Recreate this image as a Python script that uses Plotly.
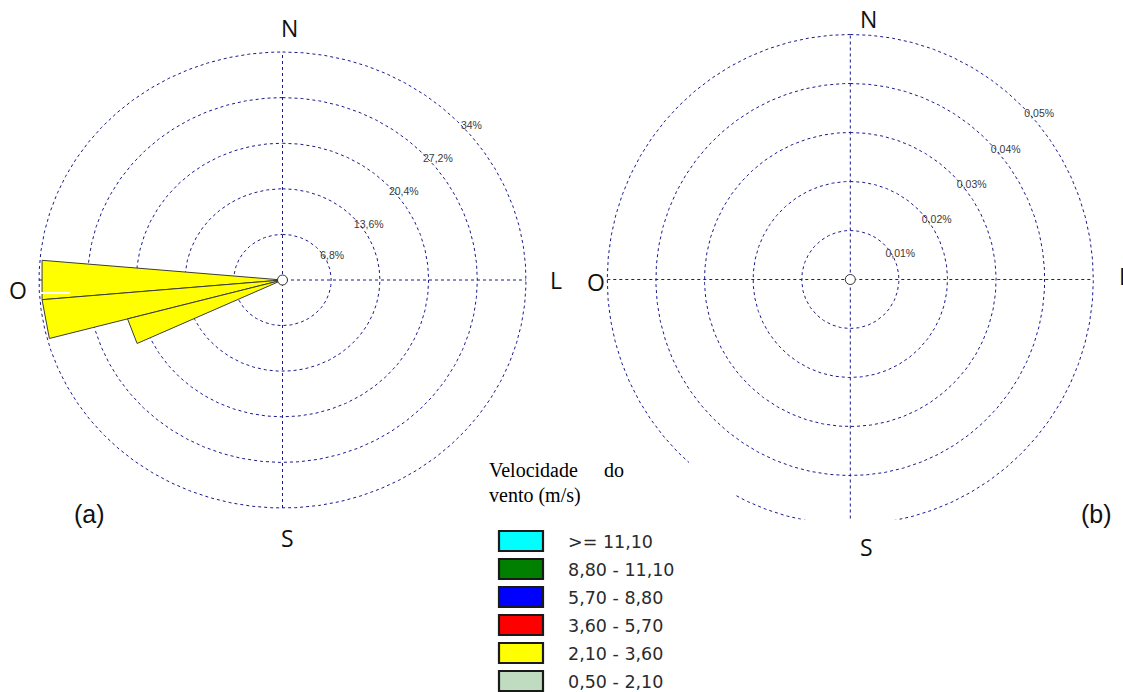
import numpy as np
import plotly.graph_objects as go

# ---- data -------------------------------------------------------------
# rose (a): frequency (%) per 10-degree direction sector, class 2,10 - 3,60 m/s
directions_a = [270, 260, 250]
freq_a = [33.7, 33.7, 22.4]
sector_width = 10

rings_a = [6.8, 13.6, 20.4, 27.2, 34.0]
ring_labels_a = ["6,8%", "13,6%", "20,4%", "27,2%", "34%"]

# rose (b): empty rose, only the frequency rings
rings_b = [0.01, 0.02, 0.03, 0.04, 0.05]
ring_labels_b = ["0,01%", "0,02%", "0,03%", "0,04%", "0,05%"]

speed_classes = [">= 11,10", "8,80 - 11,10", "5,70 - 8,80",
                 "3,60 - 5,70", "2,10 - 3,60", "0,50 - 2,10"]
class_colors = ["#00FFFF", "#007F00", "#0000FF", "#FF0000", "#FFFF00", "#C0DCC0"]
wedge_class = "2,10 - 3,60"

compass_names = ["N", "L", "S", "O"]

# ---- page geometry ----------------------------------------------------
W, H = 1123, 692
PAD = 5
GRID = "#1a1a8c"
ROSE_A = dict(cx=282.5, cy=280.0, rx=243.5, ry=228.0)
ROSE_B = dict(cx=850.3, cy=279.5, rx=243.0, ry=245.0)


def px(x):
    return x / W


def py(y):
    return 1 - y / H


def axis_setup(g, rmax):
    xd = [px(g["cx"] - g["rx"] - PAD), px(g["cx"] + g["rx"] + PAD)]
    yd = [py(g["cy"] + g["ry"] + PAD), py(g["cy"] - g["ry"] - PAD)]
    xr = rmax * (g["rx"] + PAD) / g["rx"]
    yr = rmax * (g["ry"] + PAD) / g["ry"]
    xa = dict(domain=xd, range=[-xr, xr], visible=False, fixedrange=True)
    ya = dict(domain=yd, range=[-yr, yr], visible=False, fixedrange=True)
    return xa, ya


def compass_xy(r, deg):
    t = np.radians(deg)
    return r * np.sin(t), r * np.cos(t)


fig = go.Figure()


def draw_grid(rings, labels, xa, ya, label_offset):
    rmax = rings[-1]
    th = np.linspace(0, 360, 721)
    for r in rings:
        x, y = compass_xy(r, th)
        fig.add_trace(go.Scatter(x=x, y=y, mode="lines", xaxis=xa, yaxis=ya,
                                 line=dict(color=GRID, width=1, dash="3px,3px"),
                                 hoverinfo="skip"))
    # north-south and east-west spokes
    for deg in (0, 90):
        x0, y0 = compass_xy(rmax, deg)
        fig.add_trace(go.Scatter(x=[-x0, x0], y=[-y0, y0], mode="lines",
                                 xaxis=xa, yaxis=ya,
                                 line=dict(color=GRID, width=1, dash="3px,3px"),
                                 hoverinfo="skip"))
    label_angles = [63.5, 55.8, 52.5, 50.4, 49.0]
    step = rings[0]
    lx, ly = [], []
    for r, a in zip(rings, label_angles):
        x, y = compass_xy(r + label_offset * step, a)
        lx.append(x)
        ly.append(y)
    fig.add_trace(go.Scatter(x=lx, y=ly, mode="text", text=labels,
                             xaxis=xa, yaxis=ya, cliponaxis=False,
                             textfont=dict(family="Liberation Sans, Arial", size=10.5,
                                           color="#3a3a3a"),
                             hoverinfo="skip"))


def draw_center(xa, ya):
    fig.add_trace(go.Scatter(x=[0], y=[0], mode="markers", xaxis=xa, yaxis=ya,
                             cliponaxis=False,
                             marker=dict(size=10, color="white",
                                         line=dict(color="#333333", width=1)),
                             hoverinfo="skip"))


# rose (a)
draw_grid(rings_a, ring_labels_a, "x", "y", 0.14)
wedge_color = class_colors[speed_classes.index(wedge_class)]
for d, f in zip(directions_a, freq_a):
    t1, t2 = d - sector_width / 2, d + sector_width / 2
    x1, y1 = compass_xy(f, t1)
    x2, y2 = compass_xy(f, t2)
    fig.add_trace(go.Scatter(x=[0, x1, x2, 0], y=[0, y1, y2, 0], mode="lines",
                             fill="toself", fillcolor=wedge_color,
                             line=dict(color="#3c3c3c", width=1),
                             xaxis="x", yaxis="y", hoverinfo="skip"))
draw_center("x", "y")

# rose (b)
draw_grid(rings_b, ring_labels_b, "x2", "y2", 0.15)
draw_center("x2", "y2")

xa1, ya1 = axis_setup(ROSE_A, rings_a[-1])
xa2, ya2 = axis_setup(ROSE_B, rings_b[-1])
xa2["anchor"] = "y2"
ya2["anchor"] = "x2"

annotations = []


def label(text, x, y, size, family="Open Sans", xanchor="center", color="#111111"):
    annotations.append(dict(text=text, x=px(x), y=py(y), xref="paper", yref="paper",
                            xanchor=xanchor, yanchor="middle", showarrow=False,
                            font=dict(family=family, size=size, color=color)))


# compass letters (the east letter of rose (b) runs off the page edge)
pos_a = [(289.5, 27.5), (556, 279.5), (287.5, 538), (17.5, 290)]
pos_b = [(868, 19), (1116.5, 276), (866, 547), (596, 282)]
for name, (x, y) in zip(compass_names, pos_a):
    label(name, x, y, 23)
for name, (x, y) in zip(compass_names, pos_b):
    if name == "L":
        label(name, x, y, 23, xanchor="left")
    else:
        label(name, x, y, 23)

label("(a)", 89, 514, 25, family="Liberation Sans, Arial")
label("(b)", 1096, 514, 25, family="Liberation Sans, Arial")

# legend title
label("Velocidade", 487, 470, 20, family="Liberation Serif, Times New Roman",
      xanchor="left", color="black")
label("do", 626, 470, 20, family="Liberation Serif, Times New Roman",
      xanchor="right", color="black")
label("vento (m/s)", 487, 495, 20, family="Liberation Serif, Times New Roman",
      xanchor="left", color="black")

shapes = []
# legend swatches
for i, (name, col) in enumerate(zip(speed_classes, class_colors)):
    top = 531 + 28 * i
    shapes.append(dict(type="rect", xref="paper", yref="paper",
                       x0=px(499), x1=px(543), y0=py(top + 20), y1=py(top),
                       fillcolor=col, line=dict(color="#1a1a1a", width=2.2)))
    label(name, 566, top + 10.5, 17.5, family="DejaVu Sans", xanchor="left",
          color="#2b2b2b")

# white patches over the lower part of rose (b)
for x0, x1, y0, y1 in [(689, 736, 457, 536), (689, 900, 519.5, 536)]:
    shapes.append(dict(type="rect", xref="paper", yref="paper", layer="above",
                       x0=px(x0), x1=px(x1), y0=py(y1), y1=py(y0),
                       fillcolor="white", line=dict(width=0)))
# thin white streak across the west wedges
shapes.append(dict(type="line", xref="paper", yref="paper", layer="above",
                   x0=px(41), x1=px(70), y0=py(293), y1=py(293),
                   line=dict(color="white", width=2)))

fig.update_layout(
    width=W, height=H,
    margin=dict(l=0, r=0, t=0, b=0),
    paper_bgcolor="white", plot_bgcolor="white",
    showlegend=False,
    xaxis=xa1, yaxis=ya1, xaxis2=xa2, yaxis2=ya2,
    annotations=annotations, shapes=shapes,
)

fig.write_html("out.html")
